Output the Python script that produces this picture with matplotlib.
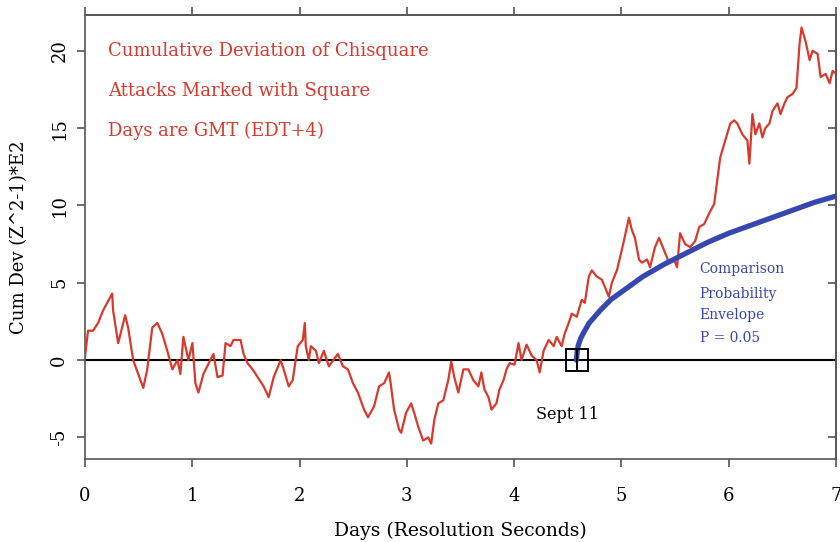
# Cumulative deviation plot (Chisquare), Sept 11
import matplotlib.pyplot as plt

plt.rcParams['axes.unicode_minus'] = False

# red curve: days and cum dev values
days = [0.000, 0.028, 0.075, 0.122, 0.168, 0.253, 0.262, 0.309, 0.346, 0.374,
        0.402, 0.449, 0.496, 0.543, 0.580, 0.627, 0.674, 0.720, 0.767, 0.814,
        0.861, 0.889, 0.917, 0.964, 1.001, 1.029, 1.057, 1.104, 1.169, 1.197,
        1.235, 1.282, 1.310, 1.356, 1.384, 1.450, 1.478, 1.515, 1.562, 1.609,
        1.665, 1.712, 1.759, 1.824, 1.852, 1.899, 1.936, 1.983, 2.030, 2.049,
        2.058, 2.086, 2.105, 2.152, 2.180, 2.226, 2.273, 2.357, 2.404, 2.451,
        2.498, 2.544, 2.601, 2.638, 2.694, 2.741, 2.788, 2.834, 2.853, 2.881,
        2.928, 2.947, 2.993, 3.040, 3.068, 3.106, 3.152, 3.199, 3.227, 3.255,
        3.293, 3.340, 3.386, 3.414, 3.442, 3.480, 3.527, 3.573, 3.620, 3.667,
        3.695, 3.723, 3.761, 3.789, 3.835, 3.863, 3.901, 3.929, 3.957, 4.004,
        4.041, 4.069, 4.116, 4.163, 4.210, 4.238, 4.275, 4.322, 4.369, 4.397,
        4.443, 4.471, 4.509, 4.537, 4.584, 4.630, 4.659, 4.696, 4.724, 4.771,
        4.818, 4.883, 4.911, 4.958, 4.986, 5.023, 5.051, 5.070, 5.098, 5.126,
        5.164, 5.192, 5.239, 5.267, 5.313, 5.351, 5.398, 5.444, 5.491, 5.519,
        5.547, 5.594, 5.641, 5.688, 5.725, 5.772, 5.819, 5.865, 5.893, 5.921,
        5.968, 6.015, 6.052, 6.080, 6.127, 6.174, 6.193, 6.221, 6.249, 6.286,
        6.314, 6.342, 6.380, 6.408, 6.455, 6.483, 6.520, 6.548, 6.595, 6.632,
        6.660, 6.679, 6.717, 6.754, 6.782, 6.829, 6.857, 6.904, 6.941, 6.969,
        7.000]
cumdev = [0.2, 1.9, 1.9, 2.4, 3.2, 4.3, 3.2, 1.1, 2.1, 2.9,
          2.1, 0.0, -0.9, -1.8, -0.6, 2.1, 2.4, 1.7, 0.6, -0.6,
          0.0, -0.9, 1.5, 0.0, 1.1, -1.5, -2.1, -0.9, 0.0, 0.4,
          -1.1, -1.0, 1.1, 0.9, 1.3, 1.3, 0.4, -0.2, -0.6, -1.1,
          -1.7, -2.4, -1.1, 0.0, -0.6, -1.7, -1.3, 0.9, 1.3, 2.4,
          0.9, 0.0, 0.9, 0.6, -0.2, 0.6, -0.4, 0.4, -0.4, -0.6,
          -1.5, -2.1, -3.2, -3.7, -3.0, -1.7, -1.5, -0.8, -1.7, -3.2,
          -4.5, -4.7, -3.4, -2.8, -3.4, -4.3, -5.2, -5.0, -5.4, -3.9,
          -2.8, -2.6, -1.3, -0.1, -1.1, -2.1, -0.6, -0.6, -1.3, -1.7,
          -0.8, -1.9, -2.4, -3.2, -2.8, -1.9, -1.3, -0.6, -0.2, -0.3,
          1.1, 0.0, 1.0, 0.3, 0.0, -0.8, 0.6, 1.3, 0.9, 1.5,
          0.9, 1.7, 2.4, 3.0, 2.8, 3.9, 3.7, 5.4, 5.8, 5.4,
          5.2, 4.1, 5.0, 5.8, 6.6, 7.7, 8.6, 9.2, 8.4, 7.9,
          6.5, 6.3, 6.5, 6.0, 7.3, 7.9, 7.1, 6.3, 6.5, 6.0,
          8.2, 7.5, 7.3, 7.7, 8.6, 8.8, 9.5, 10.1, 11.6, 13.1,
          14.2, 15.3, 15.5, 15.3, 14.6, 14.2, 12.7, 15.9, 14.6, 15.3,
          14.4, 15.0, 15.3, 16.1, 16.6, 15.9, 16.6, 17.0, 17.2, 17.6,
          20.4, 21.5, 20.6, 19.4, 20.0, 19.8, 18.3, 18.5, 17.9, 18.7,
          18.5]

# blue probability envelope (p = 0.05)
env_days = [4.58, 4.59, 4.60, 4.62, 4.65, 4.70, 4.80, 4.90, 5.00, 5.20,
            5.40, 5.60, 5.80, 6.00, 6.20, 6.40, 6.60, 6.80, 7.00]
env_vals = [0.0, 0.7, 1.0, 1.4, 1.8, 2.4, 3.2, 3.9, 4.4, 5.4,
            6.2, 6.9, 7.6, 8.2, 8.7, 9.2, 9.7, 10.2, 10.6]

# attack marker (square on the zero line)
attack_days = [4.584]
attack_vals = [0]

red = '#d8392c'
blue = '#3647b0'
serif = 'DejaVu Serif'
grey = '#555555'

fig = plt.figure(figsize=(8.4, 5.42), dpi=100)
ax = fig.add_axes([0.1012, 0.153, 0.894, 0.819])

ax.axhline(0, color='black', lw=1.5, zorder=2)
ax.plot(days, cumdev, color=red, lw=1.6, zorder=3)
ax.plot(env_days, env_vals, color=blue, lw=3.8, solid_capstyle='round', zorder=4)
# square with a divider in the middle
ax.plot(attack_days, attack_vals, 's', ms=16, mfc='none', mec='black', mew=1.4, zorder=5)
ax.plot(attack_days, attack_vals, '|', ms=16, mec='black', mew=1.4, zorder=5)

ax.set_xlim(0, 7)
ax.set_ylim(-6.4, 22.3)
ax.set_xticks(range(0, 8))
ax.set_yticks([-5, 0, 5, 10, 15, 20])

for sp in ax.spines.values():
    sp.set_color(grey)
    sp.set_linewidth(1.2)

ax.tick_params(axis='x', direction='out', length=6, width=1.2, color=grey,
               labelsize=13, pad=14)
ax.tick_params(axis='y', direction='out', length=6, width=1.2, color=grey,
               labelsize=13, pad=6)
for lab in ax.get_yticklabels():
    lab.set_rotation(90)
    lab.set_va('center')
for lab in ax.get_xticklabels() + ax.get_yticklabels():
    lab.set_family(serif)

# top ticks outward, right ticks inward, no labels
top = ax.secondary_xaxis('top')
top.set_xticks(range(0, 8))
top.tick_params(direction='out', length=6, width=1.2, color=grey, labeltop=False)
right = ax.secondary_yaxis('right')
right.set_yticks([-5, 0, 5, 10, 15, 20])
right.tick_params(direction='in', length=6, width=1.2, color=grey, labelright=False)
for s in (top, right):
    for sp in s.spines.values():
        sp.set_color(grey)
        sp.set_linewidth(1.2)

ax.set_xlabel('Days (Resolution Seconds)', family=serif, fontsize=13.5, labelpad=12)
ax.set_ylabel('Cum Dev (Z^2-1)*E2', family=serif, fontsize=13, labelpad=16)

ax.text(0.215, 20.0, 'Cumulative Deviation of Chisquare', color=red, family=serif,
        fontsize=13, va='center')
ax.text(0.215, 17.4, 'Attacks Marked with Square', color=red, family=serif,
        fontsize=13, va='center')
ax.text(0.215, 14.8, 'Days are GMT (EDT+4)', color=red, family=serif,
        fontsize=13, va='center')
ax.text(4.2, -3.55, 'Sept 11', color='black', family=serif, fontsize=11.5, va='center')
for txt, yv in zip(['Comparison', 'Probability', 'Envelope', 'P = 0.05'],
                   [5.9, 4.3, 2.9, 1.4]):
    ax.text(5.73, yv, txt, color=blue, family=serif, fontsize=10, va='center')

fig.savefig('out.png', dpi=100)
